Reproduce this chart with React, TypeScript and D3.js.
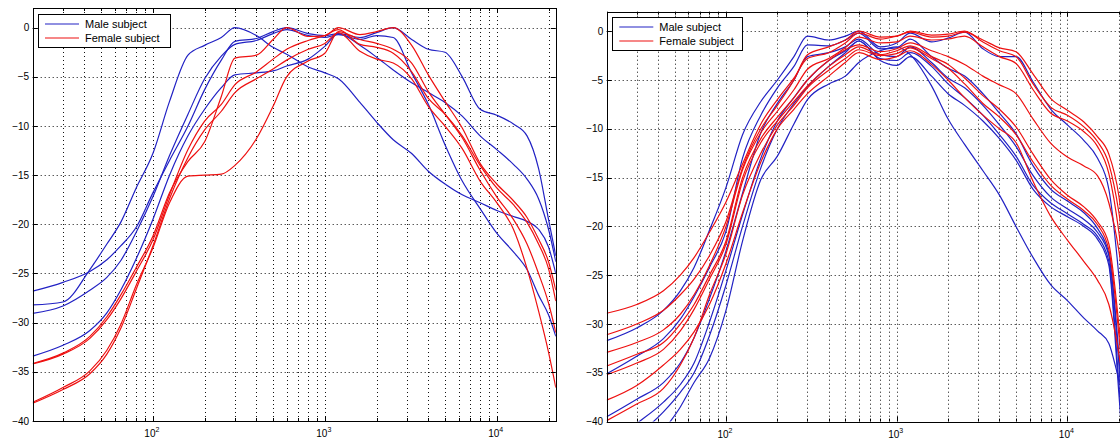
import React from "react";
import * as d3 from "d3";

// Frequency grid (Hz) shared by every series
const FREQS = [20, 30, 43, 54, 65, 80, 100, 125, 160, 200, 250, 300, 400, 500, 600, 800, 1000, 1200, 1600, 2000, 2500, 3200, 4000, 5000, 6300, 8000, 10000, 12500, 15000, 17500, 20000, 22050];

// ---- Left panel (dB) ----
const leftMale1 = [-28.2, -27.9, -24.6, -22.0, -19.8, -16.3, -12.8, -7.5, -2.8, -1.8, -1.0, 0.0, -0.8, -2.0, -2.7, -4.0, -4.6, -5.2, -7.6, -9.6, -11.4, -12.8, -14.6, -15.9, -17.0, -17.8, -18.6, -19.2, -19.7, -20.5, -22.3, -25.0];
const leftMale2 = [-26.8, -25.9, -24.8, -23.6, -22.2, -20.3, -16.8, -13.5, -10.0, -6.3, -3.3, -1.4, -1.1, -0.4, 0.0, -0.6, -0.8, -0.6, -1.0, -0.5, 0.0, -1.2, -2.2, -2.5, -5.0, -8.3, -8.9, -9.8, -11.0, -14.3, -19.5, -23.2];
const leftMale3 = [-33.4, -32.3, -30.8, -29.0, -26.7, -23.5, -19.5, -15.0, -11.0, -8.3, -6.1, -4.8, -4.6, -4.4, -3.9, -3.2, -1.9, -0.6, -1.8, -3.0, -4.3, -5.6, -6.6, -7.6, -9.0, -11.0, -12.4, -13.9, -15.4, -17.4, -20.5, -23.8];
const leftMale4 = [-29.05, -28.3, -26.7, -25.4, -23.7, -20.8, -17.2, -13.0, -8.8, -5.2, -2.9, -1.7, -1.3, -0.6, -0.2, -0.8, -1.0, -0.7, -1.2, -0.8, -1.0, -4.6, -7.8, -11.9, -15.6, -18.4, -20.9, -22.8, -24.6, -27.2, -29.2, -31.4];

const leftFemale1 = [-34.15, -33.1, -31.4, -29.4, -27.2, -24.4, -21.2, -16.8, -13.6, -11.6, -7.0, -3.1, -2.8, -1.2, 0.0, -0.9, -0.8, 0.0, -0.7, -0.4, 0.0, -1.8, -4.8, -7.5, -10.2, -13.8, -15.9, -17.6, -19.3, -21.5, -23.8, -26.7];
const leftFemale2 = [-34.2, -33.2, -31.6, -29.7, -27.6, -24.8, -21.6, -17.0, -12.4, -9.5, -7.8, -5.8, -4.5, -3.2, -2.2, -1.3, -0.8, -0.2, -1.7, -2.0, -2.6, -4.5, -7.2, -8.8, -11.0, -14.0, -16.3, -18.0, -19.8, -22.0, -24.5, -27.8];
const leftFemale3 = [-38.2, -36.8, -35.2, -33.2, -30.6, -26.6, -22.2, -17.4, -13.2, -10.4, -8.5, -6.6, -5.2, -4.2, -3.3, -2.2, -1.6, -0.5, -2.4, -3.2, -3.6, -5.2, -8.0, -10.0, -12.3, -15.6, -17.8, -20.5, -24.5, -28.8, -33.0, -36.6];
const leftFemale4 = [-38.1, -36.6, -34.9, -32.8, -30.2, -26.2, -22.4, -17.8, -15.1, -15.0, -14.9, -14.0, -11.3, -8.0, -5.0, -3.4, -2.6, -0.4, -1.2, -1.6, -2.2, -3.6, -6.5, -8.8, -11.2, -14.5, -17.2, -19.5, -22.0, -25.0, -28.0, -31.0];

// ---- Right panel (dB) ----
const rightMale1 = [-31.7, -30.4, -28.6, -26.6, -24.2, -20.4, -16.0, -10.6, -7.2, -5.0, -2.6, -0.5, -0.9, -0.5, 0.0, -1.6, -1.2, -0.2, -1.1, -0.7, -0.1, -1.8, -2.6, -2.6, -5.2, -8.0, -9.6, -11.2, -13.0, -16.2, -25.0, -34.0];
const rightMale2 = [-35.1, -33.3, -31.5, -29.5, -27.2, -24.2, -20.5, -13.0, -8.6, -5.8, -3.6, -1.4, -1.5, -0.9, -0.2, -1.8, -1.7, -0.8, -2.6, -3.8, -4.6, -6.4, -8.4, -10.5, -13.8, -16.2, -17.4, -18.6, -20.2, -22.8, -33.0, -44.0];
const rightMale3 = [-39.5, -37.7, -36.0, -34.0, -31.4, -27.4, -22.5, -16.6, -10.4, -7.4, -5.0, -2.6, -2.2, -1.6, -0.8, -2.4, -2.6, -1.6, -3.2, -4.8, -5.8, -7.6, -9.6, -11.8, -14.8, -17.0, -18.2, -19.3, -20.6, -23.0, -34.0, -45.0];
const rightMale4 = [-42.5, -40.2, -38.0, -36.2, -34.0, -29.8, -24.5, -18.8, -13.0, -9.2, -6.8, -5.0, -3.0, -2.0, -1.0, -2.8, -3.0, -2.2, -3.6, -5.4, -6.8, -8.6, -10.6, -12.8, -15.8, -17.6, -18.7, -19.8, -21.0, -23.6, -36.0, -46.0];
const rightMale5 = [-44.0, -41.5, -39.0, -37.0, -35.0, -31.2, -26.0, -20.0, -14.0, -10.0, -7.4, -5.7, -3.6, -2.2, -1.0, -3.0, -3.5, -2.6, -4.6, -6.4, -7.6, -9.2, -11.0, -13.2, -16.2, -18.0, -19.0, -20.0, -21.3, -24.0, -37.0, -47.0];
const rightMale6 = [-50.0, -46.0, -41.0, -38.5, -36.0, -33.5, -28.6, -21.5, -15.2, -12.8, -9.5, -7.0, -5.4, -4.6, -3.2, -2.0, -1.6, -2.4, -5.6, -9.0, -11.6, -14.3, -16.8, -20.0, -23.2, -26.0, -27.6, -29.4, -30.7, -32.0, -35.6, -38.0];

const rightFemale1 = [-28.9, -28.0, -26.6, -25.0, -23.2, -20.6, -17.5, -13.6, -9.5, -7.0, -4.8, -2.8, -2.2, -1.2, -0.2, -0.8, -0.5, -0.1, -0.6, -0.5, -0.1, -0.9, -1.7, -2.1, -4.4, -6.9, -8.1, -9.3, -10.8, -12.6, -16.8, -23.0];
const rightFemale2 = [-31.1, -30.0, -28.6, -27.0, -25.4, -23.0, -19.5, -14.0, -10.0, -7.6, -5.0, -2.4, -1.6, -0.9, 0.0, -0.6, -0.5, 0.0, -0.4, -0.3, 0.0, -1.1, -2.0, -2.6, -5.4, -7.8, -8.6, -9.8, -11.3, -13.6, -18.5, -24.0];
const rightFemale3 = [-32.9, -31.9, -30.6, -29.0, -27.0, -24.0, -20.0, -14.2, -10.4, -8.2, -6.0, -3.9, -2.8, -1.7, -0.6, -1.2, -1.1, -0.5, -0.9, -0.8, -0.5, -1.6, -2.6, -3.3, -6.0, -8.4, -9.2, -10.3, -11.8, -14.6, -20.5, -27.0];
const rightFemale4 = [-34.3, -33.1, -31.9, -30.0, -28.0, -25.0, -21.5, -15.0, -11.0, -8.8, -6.8, -5.0, -3.0, -1.9, -1.4, -2.1, -1.8, -1.2, -2.0, -2.6, -3.4, -4.6, -5.5, -6.4, -9.0, -11.5, -12.9, -13.8, -14.8, -17.6, -22.4, -28.0];
const rightFemale5 = [-35.2, -34.0, -32.6, -30.7, -28.5, -25.4, -21.8, -15.4, -11.4, -9.2, -7.2, -5.6, -3.6, -2.4, -1.6, -2.4, -2.0, -1.5, -2.6, -3.4, -4.8, -6.6, -8.0, -9.8, -12.6, -15.2, -16.8, -18.0, -19.5, -21.8, -30.0, -38.0];
const rightFemale6 = [-37.8, -36.3, -34.2, -32.6, -30.8, -28.0, -23.8, -18.6, -13.4, -10.0, -8.0, -6.4, -4.6, -3.2, -2.2, -2.9, -2.6, -2.0, -3.4, -5.0, -6.8, -8.6, -10.0, -11.4, -15.4, -19.0, -21.4, -23.6, -25.5, -28.0, -33.0, -38.0];
const rightFemale7 = [-39.9, -38.2, -36.6, -34.2, -31.4, -27.0, -22.8, -16.8, -12.5, -9.6, -7.6, -5.8, -4.0, -2.8, -1.9, -2.5, -2.3, -1.7, -2.8, -3.8, -5.4, -7.4, -8.8, -10.6, -13.4, -15.8, -17.2, -18.4, -19.8, -22.4, -31.0, -40.0];

// Tick values / labels
const Y_TICKS = [-40, -35, -30, -25, -20, -15, -10, -5, 0];
const X_MAJOR = [100, 1000, 10000];
const X_MAJOR_EXP = ["2", "3", "4"];
const LEGEND_LABELS = ["Male subject", "Female subject"];

const BLUE = "#2222c4";
const RED = "#ee1111";
const FONT = "'Liberation Sans', Arial, Helvetica, sans-serif";

const PANELS = [
  {
    id: "a",
    x0: 32.7, x1: 555.8, y0: 8, y1: 421,
    legend: { x: 38, y: 14, w: 132, h: 33 },
    male: [leftMale1, leftMale2, leftMale3, leftMale4],
    female: [leftFemale1, leftFemale2, leftFemale3, leftFemale4],
  },
  {
    id: "b",
    x0: 606.7, x1: 1126, y0: 11.7, y1: 421.6,
    legend: { x: 612.3, y: 17, w: 130.4, h: 33 },
    male: [rightMale1, rightMale2, rightMale3, rightMale4, rightMale5, rightMale6],
    female: [rightFemale1, rightFemale2, rightFemale3, rightFemale4, rightFemale5, rightFemale6, rightFemale7],
  },
];

const fmt = (v: number) => (v < 0 ? "\u2212" + Math.abs(v) : String(v));
const px = (v: number) => Math.round(v) + 0.5;

function Panel({ p }: { p: any }) {
  const x = d3.scaleLog().domain([20, 22050]).range([p.x0, p.x1]);
  const y = d3.scaleLinear().domain([-40, 2]).range([p.y1, p.y0]);
  const xTicks = x.ticks().filter((v) => v >= 20 && v <= 22050);
  const line = d3
    .line<number>()
    .x((_, i) => x(FREQS[i]))
    .y((d) => y(d))
    .curve(d3.curveMonotoneX);
  const clipId = `clip-${p.id}`;
  const L = p.legend;
  const majorSet = new Set(X_MAJOR);

  return (
    <g>
      <defs>
        <clipPath id={clipId}>
          <rect x={p.x0} y={p.y0} width={p.x1 - p.x0} height={p.y1 - p.y0} />
        </clipPath>
      </defs>
      <rect x={p.x0} y={p.y0} width={p.x1 - p.x0} height={p.y1 - p.y0} fill="#fff" />
      <g clipPath={`url(#${clipId})`}>
        {xTicks.map((v) => (
          <line key={"gx" + v} x1={px(x(v))} x2={px(x(v))} y1={p.y0} y2={p.y1}
            stroke="#111" strokeWidth={1} strokeDasharray="1 3" />
        ))}
        {Y_TICKS.map((v) => (
          <line key={"gy" + v} x1={p.x0} x2={p.x1} y1={px(y(v))} y2={px(y(v))}
            stroke="#111" strokeWidth={1} strokeDasharray="1 3" />
        ))}
        {p.male.map((s: number[], i: number) => (
          <path key={"m" + i} d={line(s) || ""} fill="none" stroke={BLUE} strokeWidth={1.2} />
        ))}
        {p.female.map((s: number[], i: number) => (
          <path key={"f" + i} d={line(s) || ""} fill="none" stroke={RED} strokeWidth={1.2} />
        ))}
      </g>
      {/* axes box */}
      <rect x={px(p.x0)} y={px(p.y0)} width={Math.round(p.x1) - Math.round(p.x0)} height={Math.round(p.y1) - Math.round(p.y0)}
        fill="none" stroke="#000" strokeWidth={1} />
      {/* x ticks */}
      {xTicks.map((v) => {
        const len = majorSet.has(v) ? 5 : 3;
        return (
          <g key={"tx" + v}>
            <line x1={px(x(v))} x2={px(x(v))} y1={p.y1} y2={p.y1 - len} stroke="#000" />
            <line x1={px(x(v))} x2={px(x(v))} y1={p.y0} y2={p.y0 + len} stroke="#000" />
          </g>
        );
      })}
      {/* y ticks */}
      {Y_TICKS.map((v) => (
        <g key={"ty" + v}>
          <line x1={p.x0} x2={p.x0 + 5} y1={px(y(v))} y2={px(y(v))} stroke="#000" />
          <line x1={p.x1} x2={p.x1 - 5} y1={px(y(v))} y2={px(y(v))} stroke="#000" />
          <text x={p.x0 - 3.5} y={y(v)} dy="0.35em" textAnchor="end" fontSize={10} fontFamily={FONT} fill="#000">
            {fmt(v)}
          </text>
        </g>
      ))}
      {/* x labels */}
      {X_MAJOR.map((v, i) => (
        <text key={"lx" + v} x={x(v) - 1} y={p.y1 + 16} textAnchor="middle" fontSize={10} fontFamily={FONT} fill="#000">
          10
          <tspan fontSize={7} dy={-5}>{X_MAJOR_EXP[i]}</tspan>
        </text>
      ))}
      {/* legend */}
      <rect x={px(L.x)} y={px(L.y)} width={Math.round(L.w)} height={Math.round(L.h)} fill="#fff" stroke="#000" strokeWidth={1} />
      {LEGEND_LABELS.map((lab, i) => {
        const cy = L.y + 10 + i * 14;
        return (
          <g key={"lg" + i}>
            <line x1={L.x + 7} x2={L.x + 41} y1={cy} y2={cy} stroke={i === 0 ? BLUE : RED} strokeWidth={1.2} />
            <text x={L.x + 47} y={cy} dy="0.35em" fontSize={11} fontFamily={FONT} fill="#000">
              {lab}
            </text>
          </g>
        );
      })}
    </g>
  );
}

export default function App() {
  return (
    <svg
      width={1120}
      height={441}
      viewBox="0 0 1120 441"
      style={{ position: "absolute", left: 0, top: 0, display: "block", background: "#fff" }}
    >
      <rect x={0} y={0} width={1120} height={441} fill="#fff" />
      {PANELS.map((p) => (
        <Panel key={p.id} p={p} />
      ))}
    </svg>
  );
}
